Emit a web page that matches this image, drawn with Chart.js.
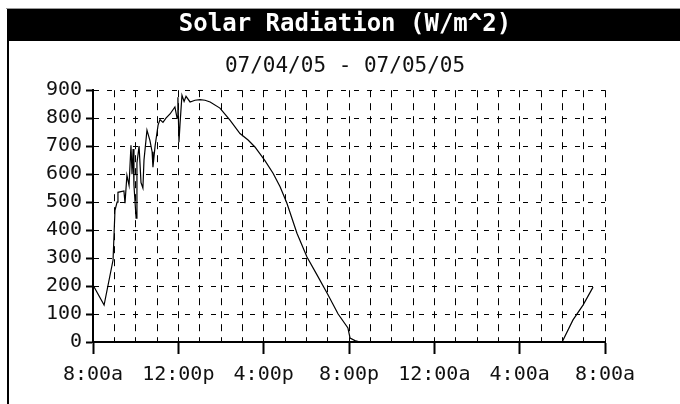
<!DOCTYPE html>
<html>
<head>
<meta charset="utf-8">
<script src="https://cdn.jsdelivr.net/npm/chart.js@4"></script>
<style>
  html, body { margin: 0; padding: 0; background: #fff; }
</style>
</head>
<body>
<canvas id="solarChart" width="680" height="404"></canvas>
<script>
// hours after 8:00a on 07/04/05
const hoursSince8a = [
  0.00, 0.52, 0.94, 1.03, 1.13, 1.17, 1.45, 1.50, 1.59, 1.69,
  1.78, 1.83, 1.88, 1.92, 2.02, 2.06, 2.16, 2.25, 2.34, 2.39,
  2.53, 2.67, 2.77, 2.81, 2.91, 3.05, 3.14, 3.28, 3.42, 3.61,
  3.84, 3.94, 3.98, 4.03, 4.08, 4.17, 4.27, 4.36, 4.55, 4.78,
  5.02, 5.25, 5.49, 5.95, 6.42, 6.89, 7.27, 7.59, 8.06, 8.44,
  8.77, 9.09, 9.56, 10.03, 10.50, 10.97, 11.49, 11.95, 12.05, 12.28,
  12.52, 21.99, 22.50, 22.97, 23.44
];
// solar radiation in W/m^2
const radiation = [
  204, 132, 293, 471, 500, 535, 540, 496, 596, 560,
  703, 600, 690, 560, 443, 640, 700, 570, 550, 650,
  757, 720, 680, 625, 700, 775, 795, 785, 800, 815,
  840, 800, 875, 714, 780, 882, 860, 878, 858, 864,
  866, 864, 858, 836, 793, 745, 722, 697, 648, 603,
  555, 496, 389, 304, 240, 175, 100, 50, 14, 5,
  0, 0, 79, 132, 196
];
const xTickLabels = ["8:00a", "12:00p", "4:00p", "8:00p", "12:00a", "4:00a", "8:00a"];
const yMax = 900;
const yStep = 100;

const points = hoursSince8a.map((h, i) => ({ x: h, y: radiation[i] }));

// frame and black title bar behind the chart
const framePlugin = {
  id: "frame",
  beforeDraw(chart) {
    const ctx = chart.ctx;
    ctx.save();
    ctx.fillStyle = "#fff";
    ctx.fillRect(0, 0, chart.width, chart.height);
    ctx.fillStyle = "#999";
    ctx.fillRect(6, 8, chart.width - 6, 1);
    ctx.fillStyle = "#000";
    ctx.fillRect(7, 9, chart.width - 7, 32);
    ctx.fillRect(7, 9, 2, chart.height - 9);
    ctx.restore();
  }
};

const mono = "'DejaVu Sans Mono', monospace";

new Chart(document.getElementById("solarChart").getContext("2d"), {
  type: "line",
  data: {
    datasets: [{
      label: "Solar Radiation",
      data: points,
      borderColor: "#000",
      borderWidth: 1.2,
      pointRadius: 0,
      tension: 0,
      fill: false
    }]
  },
  options: {
    responsive: false,
    animation: false,
    devicePixelRatio: 1,
    layout: { padding: { top: 9, left: 10, right: 0, bottom: 0 } },
    plugins: {
      legend: { display: false },
      tooltip: { enabled: false },
      title: {
        display: true,
        text: "Solar Radiation (W/m^2)",
        color: "#fff",
        font: { family: mono, size: 24, weight: "bold", lineHeight: 1 },
        padding: { top: 4, bottom: 4 }
      },
      subtitle: {
        display: true,
        text: "07/04/05 - 07/05/05",
        color: "#111",
        font: { family: mono, size: 21, lineHeight: 1.2 },
        padding: { top: 13, bottom: 11 }
      }
    },
    scales: {
      x: {
        type: "linear",
        min: 0,
        max: 24,
        afterFit: s => { s.height = 62; },
        ticks: {
          stepSize: 1,
          autoSkip: false,
          maxRotation: 0,
          padding: 9,
          color: "#111",
          font: { family: mono, size: 20 },
          callback: v => (v % 4 === 0 ? xTickLabels[v / 4] : "")
        },
        grid: {
          color: "#000",
          lineWidth: 1,
          tickLength: 12,
          tickWidth: 2,
          tickColor: c => (c.tick && c.tick.value % 4 === 0 ? "#000" : "rgba(0,0,0,0)")
        },
        border: { display: true, color: "#000", width: 2, dash: [7, 6] }
      },
      y: {
        min: 0,
        max: yMax,
        afterFit: s => { s.width = 83; },
        ticks: {
          stepSize: yStep,
          padding: 4,
          color: "#111",
          font: { family: mono, size: 20 }
        },
        grid: {
          color: "#000",
          lineWidth: 1,
          tickLength: 7,
          tickWidth: 2,
          tickColor: "#000"
        },
        border: { display: true, color: "#000", width: 2, dash: [5, 8] }
      },
      // empty box on the right keeps the plot narrower than the title bar
      spacer: {
        type: "linear",
        position: "right",
        display: true,
        afterFit: s => { s.width = 75; },
        ticks: { display: false },
        grid: { display: false, drawOnChartArea: false },
        border: { display: false }
      }
    }
  },
  plugins: [framePlugin]
});
</script>
</body>
</html>
